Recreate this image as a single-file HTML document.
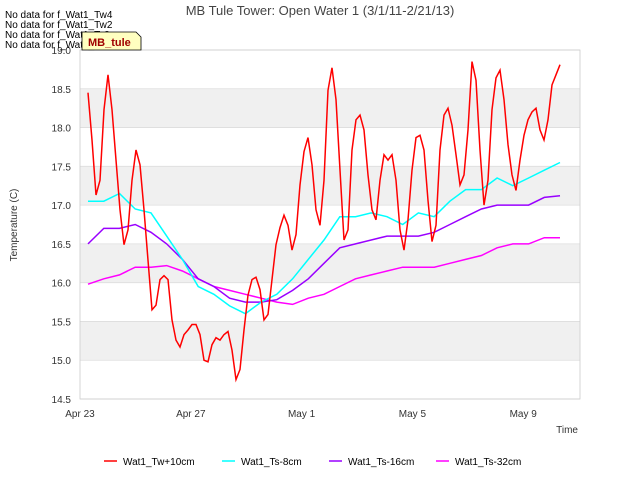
<!DOCTYPE html>
<html><head><meta charset="utf-8"><style>
body{margin:0;background:#fff;font-family:"Liberation Sans",sans-serif;}
svg text{font-family:"Liberation Sans",sans-serif;}
</style></head><body>
<svg width="640" height="480" xmlns="http://www.w3.org/2000/svg" id="c">
<text x="320" y="15" text-anchor="middle" font-size="13" fill="#444">MB Tule Tower: Open Water 1 (3/1/11-2/21/13)</text>
<g id="plot"></g>
<text transform="translate(17,225) rotate(-90)" text-anchor="middle" font-size="10" fill="#333">Temperature (C)</text>
<text x="578" y="433" text-anchor="end" font-size="10" fill="#333">Time</text>
<g font-size="10" fill="#000">
<text x="5" y="18">No data for f_Wat1_Tw4</text>
<text x="5" y="28">No data for f_Wat1_Tw2</text>
<text x="5" y="38">No data for f_Wat1_Ts2</text>
<text x="5" y="48">No data for f_Wat1_Ts4</text>
</g>
<g>
<path d="M82,32 L136,32 L141,37 L141,50 L82,50 Z" fill="#ffffc0" stroke="#000" stroke-width="0.8"/>
<text x="88" y="46" font-size="11" font-weight="bold" fill="#a00000">MB_tule</text>
</g>
<g id="legend"></g>
</svg>
<script>
const yTicks=[14.5,15.0,15.5,16.0,16.5,17.0,17.5,18.0,18.5,19.0];
const xTickDays=[0,4,8,12,16];
const xTickLabels=["Apr 23","Apr 27","May 1","May 5","May 9"];
const t0=0.29, dtFine=0.1444;
const tw10=[18.45,17.84,17.13,17.32,18.23,18.68,18.23,17.58,16.94,16.49,16.68,17.32,17.71,17.52,16.94,16.29,15.65,15.71,16.04,16.09,16.04,15.52,15.26,15.17,15.33,15.39,15.46,15.46,15.33,15.0,14.98,15.2,15.29,15.26,15.33,15.37,15.13,14.75,14.88,15.39,15.84,16.04,16.07,15.91,15.52,15.59,16.04,16.49,16.71,16.87,16.74,16.42,16.62,17.26,17.69,17.87,17.52,16.94,16.74,17.32,18.48,18.77,18.36,17.45,16.55,16.68,17.71,18.1,18.16,17.97,17.39,16.94,16.81,17.32,17.65,17.58,17.65,17.32,16.68,16.42,16.81,17.45,17.87,17.9,17.71,17.06,16.53,16.74,17.71,18.16,18.25,18.03,17.65,17.26,17.39,17.97,18.85,18.61,17.71,17.0,17.32,18.23,18.64,18.74,18.36,17.78,17.39,17.19,17.58,17.9,18.1,18.2,18.25,17.97,17.84,18.1,18.55,18.68,18.81];
const ts8=[17.05,17.05,17.15,16.95,16.9,16.6,16.3,15.95,15.85,15.7,15.6,15.75,15.85,16.05,16.3,16.55,16.85,16.85,16.9,16.85,16.75,16.9,16.85,17.05,17.2,17.2,17.35,17.25,17.35,17.45,17.55];
const ts16=[16.5,16.7,16.7,16.75,16.65,16.5,16.3,16.05,15.95,15.8,15.75,15.75,15.78,15.9,16.05,16.25,16.45,16.5,16.55,16.6,16.6,16.6,16.65,16.75,16.85,16.95,17.0,17.0,17.0,17.1,17.12];
const ts32=[15.98,16.05,16.1,16.2,16.2,16.22,16.15,16.05,15.95,15.9,15.85,15.8,15.75,15.72,15.8,15.85,15.95,16.05,16.1,16.15,16.2,16.2,16.2,16.25,16.3,16.35,16.45,16.5,16.5,16.58,16.58];
const seriesNames=["Wat1_Tw+10cm","Wat1_Ts-8cm","Wat1_Ts-16cm","Wat1_Ts-32cm"];
const colors=["#ff0000","#00ffff","#9900ff","#ff00ff"];
const L=80,R=580,T=50,B=399;
const x=d=>L+d*27.7;
const y=v=>B-(v-14.5)/4.5*(B-T);
const NS="http://www.w3.org/2000/svg";
const plot=document.getElementById('plot');
function mk(tag,at,parent){const e=document.createElementNS(NS,tag);for(const k in at)e.setAttribute(k,at[k]);(parent||plot).appendChild(e);return e;}
for(let i=0;i<yTicks.length-1;i++){
  if(i%2===1){const r=mk('rect',{x:L,y:y(yTicks[i+1]),width:R-L,height:y(yTicks[i])-y(yTicks[i+1]),fill:'#f0f0f0'});
  
  }
}
yTicks.forEach(v=>{
  const g=mk('line',{x1:L,x2:R,y1:y(v),y2:y(v),stroke:'#ddd','stroke-width':0.8});
  
  
  const t=mk('text',{x:L-9,y:y(v)+4,'text-anchor':'end','font-size':10,fill:'#333'});
  t.textContent=v.toFixed(1);
  
  
});
xTickDays.forEach((d,i)=>{
  const t=mk('text',{x:x(d),y:417,'text-anchor':'middle','font-size':10,fill:'#333'});
  t.textContent=xTickLabels[i];
  
  
});
const fr=mk('rect',{x:L,y:T,width:R-L,height:B-T,fill:'none',stroke:'#ccc','stroke-width':0.8});


function line(vals,dt,col,name){
  const p=vals.map((v,i)=>(i?'L':'M')+x(t0+i*dt).toFixed(1)+','+y(v).toFixed(1)).join(' ');
  const e=mk('path',{d:p,fill:'none',stroke:col,'stroke-width':1.5});
  
  
}
line(ts32,dtFine*4*(118/120),colors[3],'series-ts-32cm');
line(ts16,dtFine*4*(118/120),colors[2],'series-ts-16cm');
line(ts8,dtFine*4*(118/120),colors[1],'series-ts-8cm');
line(tw10,dtFine,colors[0],'series-tw-10cm');
const lg=document.getElementById('legend');
const lx=[104,222,329,436];
seriesNames.forEach((n,i)=>{
  const l=mk('line',{x1:lx[i],x2:lx[i]+13,y1:461,y2:461,stroke:colors[i],'stroke-width':1.5},lg);
  
  
  const t=mk('text',{x:lx[i]+19,y:465,'font-size':10,fill:'#000'},lg);
  t.textContent=n;
  
  
});
</script>
</body></html>
